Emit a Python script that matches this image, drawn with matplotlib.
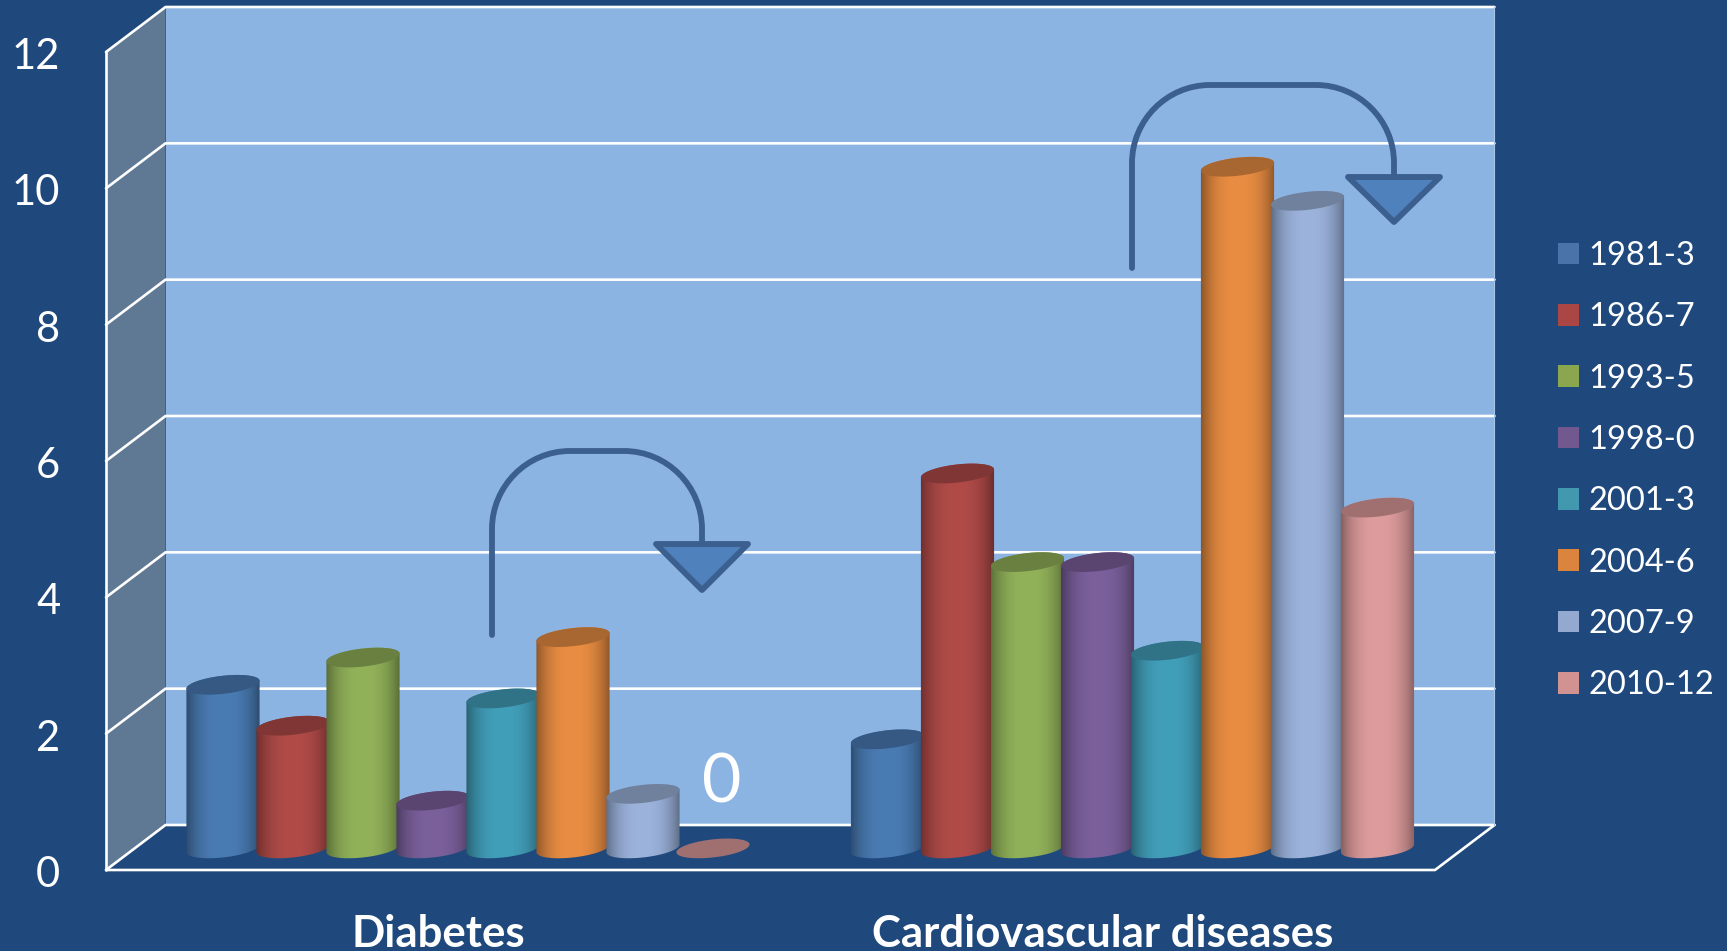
"""Grouped cylinder chart of two disease categories over survey periods"""

import numpy as np
import matplotlib
matplotlib.use('Agg')
import matplotlib.pyplot as plt
from matplotlib.patches import Patch, PathPatch, Polygon
from matplotlib.path import Path
from matplotlib.transforms import Affine2D

categories = ['Diabetes', 'Cardiovascular diseases']
periods = ['1981-3', '1986-7', '1993-5', '1998-0',
           '2001-3', '2004-6', '2007-9', '2010-12']
diabetes = [2.4, 1.8, 2.8, 0.7, 2.2, 3.1, 0.8, 0]
cardiovascular = [1.6, 5.5, 4.2, 4.2, 2.9, 10.0, 9.5, 5.0]
y_ticks = [0, 2, 4, 6, 8, 10, 12]

body_colors = ['#4A7CB4', '#B04B48', '#92B25A', '#7B609C',
               '#429FBA', '#E98D42', '#9CB3DC', '#DE9C9D']
legend_colors = ['#4874A9', '#AA4644', '#8AA64F', '#71588F',
                 '#4198AF', '#DB843D', '#93A9CF', '#D19392']

NAVY = '#1F497D'
WALL = '#8CB4E3'
SIDE = '#5F7893'
ARROW_EDGE = '#3B5F8E'
ARROW_FILL = '#4F81BD'

W, H = 1727, 951
AX_LEFT, AX_RIGHT, AX_TOP, AX_BOTTOM = 106, 1435, 52, 870

# cylinder end shape, in pixels and radians
CAP_A, CAP_B, CAP_TILT = 36.8, 9.0, np.radians(6.5)

plt.rcParams['font.family'] = ['Lato', 'DejaVu Sans']

fig = plt.figure(figsize=(W / 100, H / 100), dpi=100, facecolor=NAVY)
ax = fig.add_axes([AX_LEFT / W, 1 - AX_BOTTOM / H,
                   (AX_RIGHT - AX_LEFT) / W, (AX_BOTTOM - AX_TOP) / H])

# data units per pixel
x_unit = 2 / (AX_RIGHT - AX_LEFT)
y_unit = 12 / (AX_BOTTOM - AX_TOP)
depth_x = 59.5 * x_unit
depth_y = 45 * y_unit

# pixel coordinates measured from the top left, for the annotations
pixels = Affine2D().scale(1, -1).translate(0, H)


def draw_box():
    """Back wall, side wall and gridlines of the fake 3D frame"""
    back = Polygon([(depth_x, depth_y), (2 + depth_x, depth_y),
                    (2 + depth_x, 12 + depth_y), (depth_x, 12 + depth_y)],
                   fc=WALL, ec='none', zorder=1, clip_on=False)
    side = Polygon([(0, 0), (depth_x, depth_y),
                    (depth_x, 12 + depth_y), (0, 12)],
                   fc=SIDE, ec='none', zorder=1, clip_on=False)
    ax.add_patch(back)
    ax.add_patch(side)
    line = dict(color='white', lw=1.9, zorder=2, clip_on=False,
                solid_capstyle='round')
    for tick in y_ticks:
        ax.plot([0, depth_x, 2 + depth_x],
                [tick, tick + depth_y, tick + depth_y], **line)
    ax.plot([0, 0], [0, 12], **line)
    ax.plot([0, 2, 2 + depth_x], [0, 0, depth_y], **line)
    ax.plot([2 + depth_x] * 2, [depth_y, 12 + depth_y],
            color='#A9C6E8', lw=0.8, zorder=2, clip_on=False)


def ellipse_points(cx, cy, start, stop):
    """Arc of a cylinder end, tilted up to the right, in data units"""
    t = np.linspace(start, stop, 60)
    x = (CAP_A * np.cos(t) * np.cos(CAP_TILT)
         - CAP_B * np.sin(t) * np.sin(CAP_TILT))
    y = (CAP_A * np.cos(t) * np.sin(CAP_TILT)
         + CAP_B * np.sin(t) * np.cos(CAP_TILT))
    return np.column_stack((cx + x * x_unit, cy + y * y_unit))


def draw_cylinder(cx, value, color, order):
    base_y = depth_y * 0.48
    top_y = base_y + value
    rgb = np.array(matplotlib.colors.to_rgb(color))
    # silhouette turning points of the tilted ellipse
    turn = np.arctan2(-CAP_B * np.sin(CAP_TILT), CAP_A * np.cos(CAP_TILT))
    if value > 0:
        lower = ellipse_points(cx, base_y, turn + np.pi, turn + 2 * np.pi)
        upper = ellipse_points(cx, top_y, turn, turn + np.pi)
        outline = Path(np.vstack((lower, upper, lower[:1])), closed=True)
        body = PathPatch(outline, fc='none', ec='none', transform=ax.transData)
        ax.add_patch(body)
        u = np.linspace(-1, 1, 200)
        shade = 1 - 0.42 * np.abs(u) ** 2.6
        strip = (shade[:, None] * rgb)[None, :, :]
        half = 38 * x_unit
        image = ax.imshow(strip, aspect='auto', zorder=order,
                          extent=(cx - half, cx + half,
                                  base_y - 12 * y_unit, top_y + 12 * y_unit))
        image.set_clip_path(body)
    cap = ellipse_points(cx, top_y, 0, 2 * np.pi)
    ax.add_patch(Polygon(cap, fc=rgb * 0.72, ec='none', zorder=order + 0.5))


def draw_turn_arrow(x0, x1, y_start, y_top, y_head, y_tip):
    """Line going up, over and down into a triangular head (pixel coords)"""
    r = 78
    k = 0.55 * r
    verts = [(x0, y_start), (x0, y_top + r),
             (x0, y_top + r - k), (x0 + r - k, y_top), (x0 + r, y_top),
             (x1 - r, y_top),
             (x1 - r + k, y_top), (x1, y_top + r - k), (x1, y_top + r),
             (x1, y_head)]
    codes = [Path.MOVETO, Path.LINETO,
             Path.CURVE4, Path.CURVE4, Path.CURVE4,
             Path.LINETO,
             Path.CURVE4, Path.CURVE4, Path.CURVE4,
             Path.LINETO]
    ax.add_patch(PathPatch(Path(verts, codes), fc='none', ec=ARROW_EDGE,
                           lw=4.2, capstyle='round', transform=pixels,
                           zorder=40, clip_on=False))
    ax.add_patch(Polygon([(x1 - 46, y_head), (x1 + 46, y_head), (x1, y_tip)],
                         fc=ARROW_FILL, ec=ARROW_EDGE, lw=4.2,
                         joinstyle='round', transform=pixels,
                         zorder=41, clip_on=False))


draw_box()

step = 70 * x_unit
order = 10
for i, values in enumerate((diabetes, cardiovascular)):
    center = i + 0.5 + depth_x / 2
    for j, value in enumerate(values):
        cx = center + (j - 3.5) * step
        draw_cylinder(cx, value, body_colors[j], order)
        order += 1
        if value == 0:
            ax.text(cx + 9 * x_unit, value + 1.27, '%g' % value, color='white',
                    fontsize=49, ha='center', va='center', zorder=50)

draw_turn_arrow(492, 702, 635, 451, 544, 590)
draw_turn_arrow(1132, 1394, 268, 85, 177, 222)

ax.set_xlim(0, 2)
ax.set_ylim(0, 12)
ax.set_yticks(y_ticks)
ax.set_xticks([0.5, 1.5])
ax.set_xticklabels(categories, fontweight='bold', fontsize=31.5, color='white')
ax.set_yticklabels([str(t) for t in y_ticks], fontsize=30, color='white')
ax.tick_params(axis='y', length=0, pad=33)
ax.tick_params(axis='x', length=0, pad=32)
for label in ax.get_yticklabels():
    label.set_transform(label.get_transform() + Affine2D().translate(0, -1.5))
ax.patch.set_visible(False)
for spine in ax.spines.values():
    spine.set_visible(False)

handles = [Patch(fc=c, ec='none') for c in legend_colors]
legend = ax.legend(handles, periods, loc='upper left', frameon=False,
                   bbox_to_anchor=(1558, 241), bbox_transform=pixels,
                   fontsize=23.5, labelcolor='white', borderpad=0, borderaxespad=0,
                   handlelength=0.64, handleheight=0.64, handletextpad=0.3,
                   labelspacing=0.96)

fig.savefig('out.png', dpi=100, facecolor=NAVY)
